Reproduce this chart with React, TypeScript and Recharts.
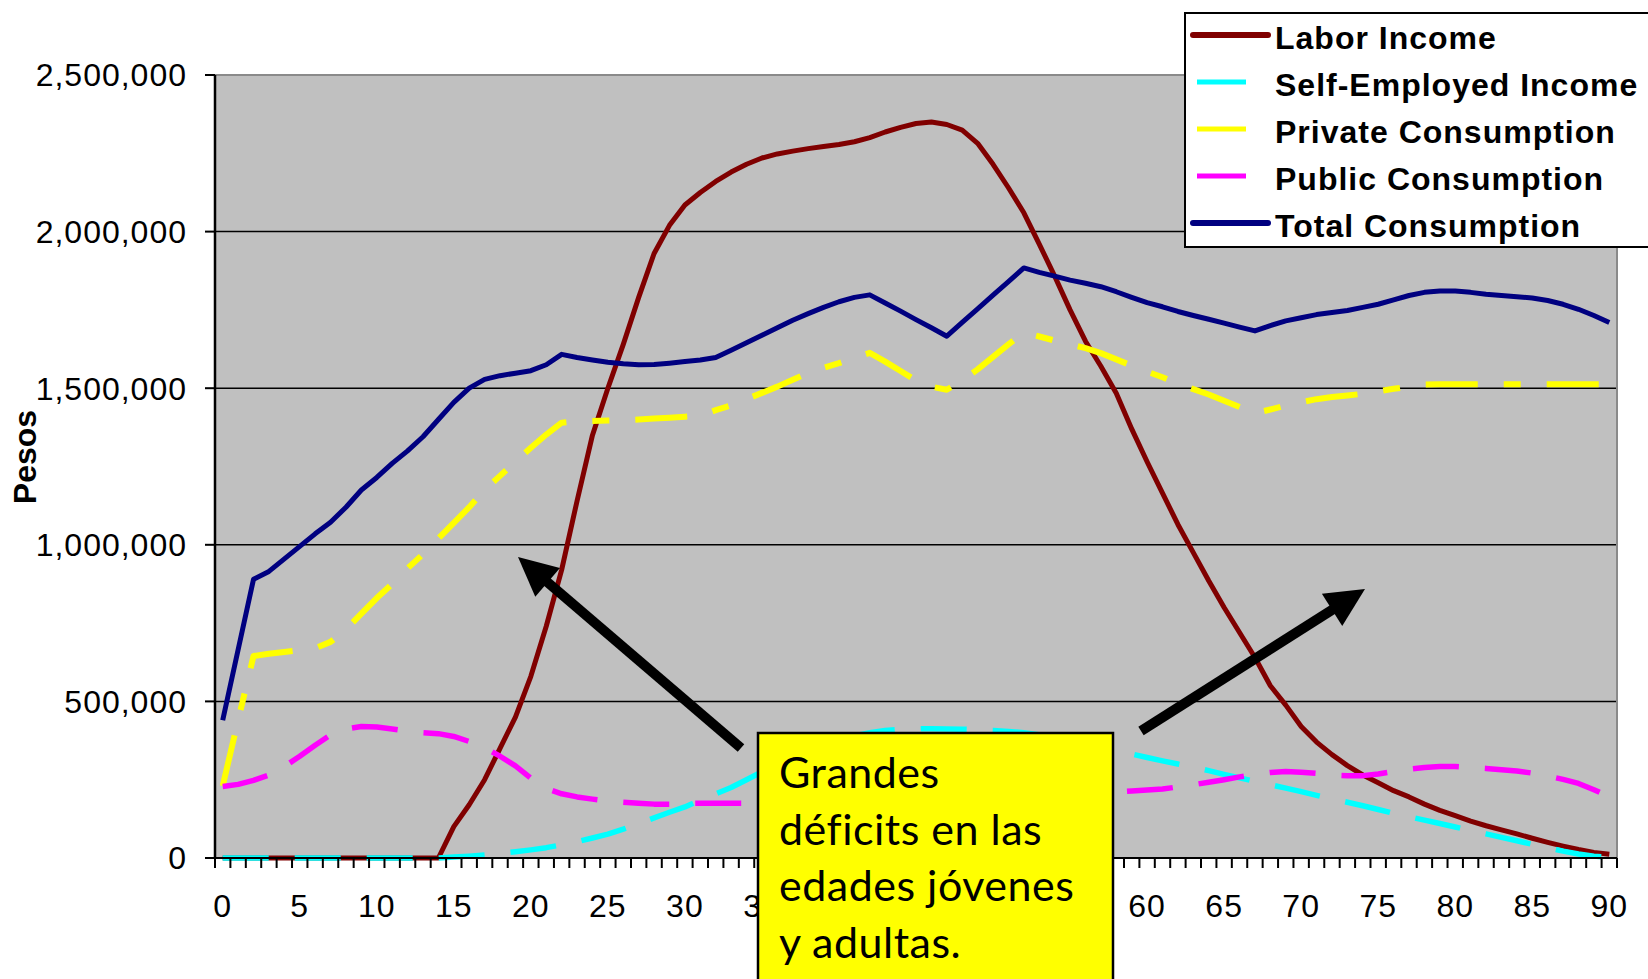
import React from "react";
import { LineChart, Line, XAxis, YAxis, CartesianGrid, ReferenceLine } from "recharts";

// ages 0..90, one category per year
const ages = [
  0, 1, 2, 3, 4, 5, 6, 7, 8, 9, 10, 11, 12, 13, 14, 15, 16, 17, 18, 19,
  20, 21, 22, 23, 24, 25, 26, 27, 28, 29, 30, 31, 32, 33, 34, 35, 36, 37, 38, 39,
  40, 41, 42, 43, 44, 45, 46, 47, 48, 49, 50, 51, 52, 53, 54, 55, 56, 57, 58, 59,
  60, 61, 62, 63, 64, 65, 66, 67, 68, 69, 70, 71, 72, 73, 74, 75, 76, 77, 78, 79,
  80, 81, 82, 83, 84, 85, 86, 87, 88, 89, 90,
];

// values in thousands of pesos
const laborIncome = [
  0, 0, 0, 0, 0, 0, 0, 0, 0, 0, 0, 0, 0, 0, 0,
  100, 170, 250, 350, 450,
  580, 740, 920, 1140, 1350,
  1500, 1640, 1790, 1930, 2020,
  2085, 2125, 2160, 2190, 2215,
  2235, 2248, 2257, 2265, 2272,
  2278, 2287, 2300, 2318, 2333,
  2345, 2350, 2342, 2324, 2282,
  2215, 2140, 2060, 1960, 1858,
  1750, 1650, 1570, 1484, 1370,
  1265, 1165, 1065, 975, 885,
  800, 720, 640, 550, 488,
  420, 370, 330, 295, 265,
  240, 215, 195, 172, 152,
  135, 118, 103, 90, 77,
  63, 50, 38, 27, 18,
  12,
];

const selfEmployedIncome = [
  0, 0, 0, 0, 0, 0, 0, 0, 0, 0, 0, 0, 0, 0, 0,
  3, 6, 10, 15, 20,
  26, 33, 42, 52, 64,
  76, 92, 110, 128, 146,
  163, 185, 205, 225, 250,
  275, 300, 325, 345, 362,
  377, 390, 400, 407, 411,
  413, 413, 412, 411, 410,
  407, 404, 400, 393, 385,
  375, 365, 354, 343, 332,
  321, 310, 300, 290, 279,
  267, 256, 245, 234, 223,
  212, 200, 189, 178, 167,
  155, 143, 132, 121, 110,
  99, 88, 77, 66, 55,
  44, 33, 22, 13, 6,
  2,
];

const privateConsumption = [
  230, 440, 645, 652, 658,
  664, 670, 690, 730, 780,
  830, 875, 925, 970, 1020,
  1070, 1120, 1175, 1220, 1265,
  1310, 1352, 1390, 1394, 1395,
  1397, 1398, 1400, 1403, 1406,
  1409, 1412, 1430, 1445, 1465,
  1485, 1505, 1527, 1548, 1565,
  1580, 1597, 1613, 1585, 1555,
  1525, 1505, 1495, 1525, 1560,
  1600, 1640, 1678, 1665, 1652,
  1640, 1628, 1612, 1592, 1572,
  1553, 1535, 1515, 1497, 1480,
  1460, 1440, 1420, 1432, 1445,
  1455, 1465, 1472, 1477, 1482,
  1490, 1498, 1505, 1512, 1513,
  1513, 1513, 1513, 1513, 1513,
  1513, 1513, 1513, 1513, 1513,
  1513,
];

const publicConsumption = [
  228, 235, 248, 265, 292,
  325, 360, 393, 412, 420,
  418, 412, 405, 400, 397,
  388, 372, 352, 325, 294,
  255, 222, 205, 195, 188,
  182, 178, 175, 172, 172,
  174, 175, 175, 175, 175,
  176, 177, 178, 179, 180,
  182, 184, 186, 188, 190,
  192, 194, 195, 196, 197,
  198, 199, 200, 202, 204,
  206, 208, 210, 211, 214,
  217, 220, 227, 234, 242,
  250, 259, 267, 273, 276,
  274, 270, 265, 263, 263,
  268, 276, 284, 289, 292,
  292, 289, 286, 282, 278,
  271, 262, 251, 238, 218,
  196,
];

const totalConsumption = [
  440, 665, 890, 915, 955,
  995, 1035, 1072, 1120, 1175,
  1215, 1260, 1300, 1345, 1400,
  1455, 1500, 1528, 1540, 1548,
  1556, 1575, 1608, 1598, 1590,
  1583, 1578, 1575, 1576, 1580,
  1585, 1590, 1598, 1621, 1645,
  1669, 1693, 1717, 1738, 1758,
  1776, 1790, 1798, 1772, 1746,
  1719, 1693, 1666, 1710, 1753,
  1797, 1840, 1884, 1870, 1858,
  1845, 1835, 1824, 1808, 1790,
  1773, 1760, 1745, 1732, 1720,
  1708, 1695, 1683, 1700, 1715,
  1725, 1735, 1742, 1748, 1758,
  1768, 1782, 1796, 1806, 1810,
  1810, 1806, 1800, 1796, 1792,
  1788, 1780, 1768, 1752, 1732,
  1710,
];

const yTicks = [0, 500000, 1000000, 1500000, 2000000, 2500000];
const gridValues = [500000, 1000000, 1500000, 2000000];

const noteLines = ["Grandes", "déficits en las", "edades jóvenes", "y adultas."];

const series = [
  { key: "labor", name: "Labor Income", values: laborIncome, color: "#800000", width: 5, dash: undefined, longSample: true },
  { key: "self", name: "Self-Employed Income", values: selfEmployedIncome, color: "#00FFFF", width: 5.5, dash: "46 26", longSample: false },
  { key: "private", name: "Private Consumption", values: privateConsumption, color: "#FFFF00", width: 6, dash: "52 26 17 26", longSample: false },
  { key: "public", name: "Public Consumption", values: publicConsumption, color: "#FF00FF", width: 5.5, dash: "46 26", longSample: false },
  { key: "total", name: "Total Consumption", values: totalConsumption, color: "#000080", width: 5, dash: undefined, longSample: true },
];

const data = ages.map((age, i) => {
  const row: Record<string, number> = { age };
  series.forEach((s) => {
    row[s.key] = s.values[i] * 1000;
  });
  return row;
});

const W = 1648;
const H = 979;
const PLOT_W = 1402;
const HALF_STEP = PLOT_W / ages.length / 2;
const AXIS_FONT = '"Liberation Sans", Arial, sans-serif';

function renderAgeTick(props: any) {
  const { x, y, payload } = props;
  const age = payload.value;
  return (
    <g key={`age-${age}`}>
      <line x1={x - HALF_STEP} x2={x - HALF_STEP} y1={y} y2={y + 10} stroke="#000" strokeWidth={2} />
      {age === 90 && (
        <line x1={x + HALF_STEP} x2={x + HALF_STEP} y1={y} y2={y + 10} stroke="#000" strokeWidth={2} />
      )}
      {age % 5 === 0 && (
        <text x={x} y={y + 59} textAnchor="middle" fontSize={32} letterSpacing={1} fill="#000" fontFamily={AXIS_FONT}>
          {age}
        </text>
      )}
    </g>
  );
}

function PesosLabel() {
  return (
    <text
      x={25}
      y={457}
      transform="rotate(-90 25 457)"
      textAnchor="middle"
      dominantBaseline="central"
      fontSize={32}
      fontWeight="bold"
      fill="#000"
      fontFamily={AXIS_FONT}
    >
      Pesos
    </text>
  );
}

function Arrow({ x1, y1, x2, y2 }: { x1: number; y1: number; x2: number; y2: number }) {
  const len = Math.hypot(x2 - x1, y2 - y1);
  const ux = (x2 - x1) / len;
  const uy = (y2 - y1) / len;
  const headLen = 39;
  const headHalf = 19;
  const bx = x2 - ux * headLen;
  const by = y2 - uy * headLen;
  return (
    <g>
      <line x1={x1} y1={y1} x2={bx + ux * 4} y2={by + uy * 4} stroke="#000" strokeWidth={10} />
      <polygon
        points={`${x2},${y2} ${bx - uy * headHalf},${by + ux * headHalf} ${bx + uy * headHalf},${by - ux * headHalf}`}
        fill="#000"
      />
    </g>
  );
}

export default function App() {
  return (
    <div
      style={{
        position: "absolute",
        left: 0,
        top: 0,
        width: W,
        height: H,
        overflow: "hidden",
        background: "#fff",
      }}
    >
      <LineChart width={W} height={H} data={data} margin={{ top: 75, right: 31, bottom: 0, left: 0 }}>
        <CartesianGrid
          vertical={false}
          fill="#C0C0C0"
          stroke="#000"
          strokeWidth={1.5}
          horizontalValues={gridValues}
        />
        <XAxis
          dataKey="age"
          type="number"
          domain={[-0.5, 90.5]}
          ticks={ages}
          interval={0}
          height={121}
          tickSize={0}
          tickMargin={0}
          tickLine={false}
          tick={renderAgeTick}
          axisLine={{ stroke: "#000", strokeWidth: 2 }}
        />
        <YAxis
          width={215}
          type="number"
          domain={[0, 2500000]}
          ticks={yTicks}
          interval={0}
          tickSize={10}
          tickMargin={18}
          tickFormatter={(v: number) => v.toLocaleString("en-US")}
          tick={{ fill: "#000", fontSize: 32, letterSpacing: 1, fontFamily: AXIS_FONT }}
          tickLine={{ stroke: "#000", strokeWidth: 2 }}
          axisLine={{ stroke: "#000", strokeWidth: 2.5 }}
          label={PesosLabel}
        />
        <ReferenceLine y={2500000} stroke="#8a8a8a" strokeWidth={2} />
        <ReferenceLine x={90.5} stroke="#8a8a8a" strokeWidth={2} />
        {series.map((s) => (
          <Line
            key={s.key}
            type="linear"
            dataKey={s.key}
            name={s.name}
            stroke={s.color}
            strokeWidth={s.width}
            strokeDasharray={s.dash}
            strokeLinejoin="round"
            dot={false}
            activeDot={false}
            isAnimationActive={false}
          />
        ))}
      </LineChart>

      {/* legend, note box and arrows drawn over the chart */}
      <svg
        width={W}
        height={H}
        style={{ position: "absolute", left: 0, top: 0, pointerEvents: "none" }}
      >
        <rect x={1185} y={13} width={500} height={234} fill="#fff" stroke="#000" strokeWidth={2} />
        {series.map((s, i) => {
          const ly = 35 + i * 47;
          return (
            <g key={s.key}>
              <line
                x1={s.longSample ? 1193 : 1197}
                x2={s.longSample ? 1268 : 1246}
                y1={ly}
                y2={ly}
                stroke={s.color}
                strokeWidth={s.longSample ? 6 : 5}
                strokeLinecap={s.longSample ? "round" : "butt"}
              />
              <text
                x={1275}
                y={ly + 14}
                fontSize={32}
                fontWeight="bold"
                letterSpacing={1}
                fill="#000"
                fontFamily={AXIS_FONT}
              >
                {s.name}
              </text>
            </g>
          );
        })}

        <Arrow x1={741} y1={748} x2={518} y2={557} />
        <Arrow x1={1141} y1={731} x2={1365} y2={589} />

        <rect x={758} y={733} width={355} height={270} fill="#FFFF00" stroke="#000" strokeWidth={2.5} />
        {noteLines.map((t, i) => (
          <text
            key={t}
            x={779}
            y={788 + i * 56.7}
            fontSize={43}
            letterSpacing={0.5}
            fill="#000"
            fontFamily="Lato, 'Open Sans', sans-serif"
          >
            {t}
          </text>
        ))}
      </svg>
    </div>
  );
}
